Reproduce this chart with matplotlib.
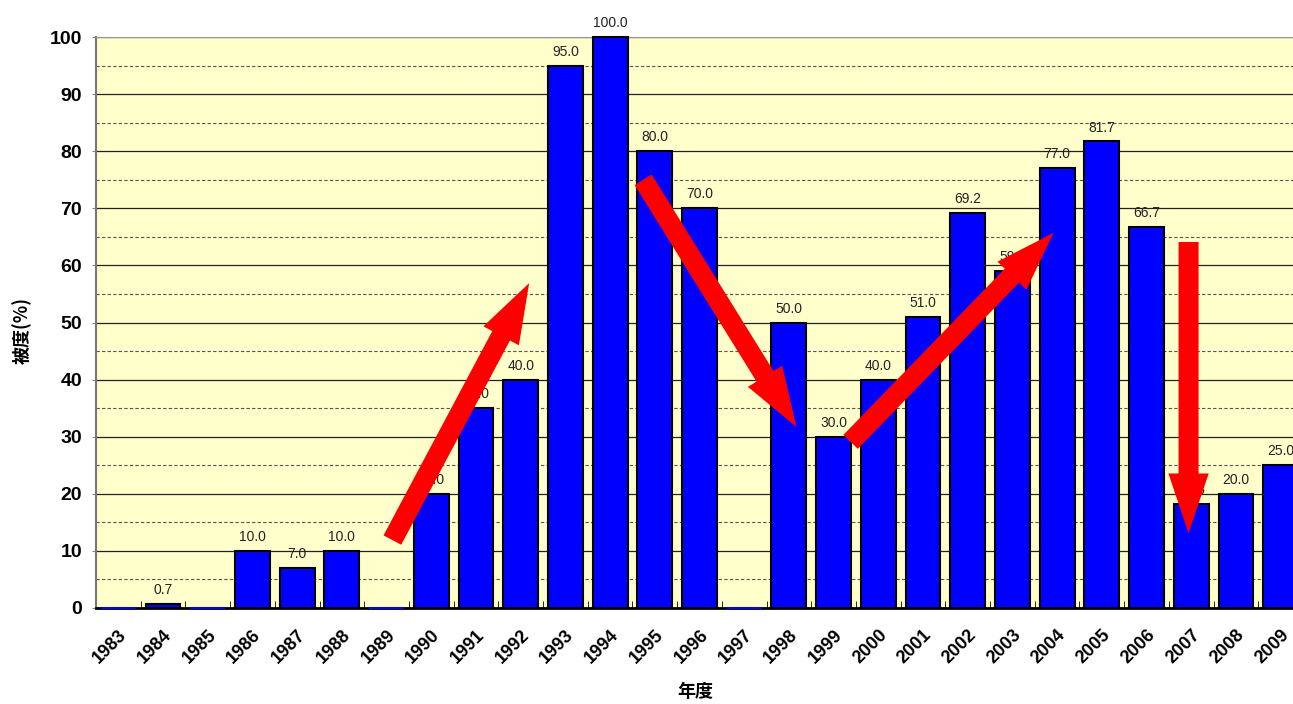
import matplotlib
matplotlib.use("Agg")
import matplotlib.pyplot as plt
import numpy as np

plt.rcParams["font.family"] = ["Liberation Sans", "Noto Sans CJK JP", "DejaVu Sans"]

years = [str(y) for y in range(1983, 2010)]
cover = [0, 0.7, 0, 10.0, 7.0, 10.0, 0, 20.0, 35.0, 40.0, 95.0, 100.0, 80.0,
         70.0, 0, 50.0, 30.0, 40.0, 51.0, 69.2, 59.0, 77.0, 81.7, 66.7, 18.3,
         20.0, 25.0]

# trend arrows: (tail_x, tail_y, tip_x, tip_y) in data units
arrows = [
    (6.13, 11.9, 9.19, 56.9),
    (11.74, 75.0, 15.17, 31.7),
    (16.38, 29.1, 20.92, 65.7),
    (23.94, 64.1, 23.94, 13.1),
]

W, H = 1293, 704
fig = plt.figure(figsize=(W / 100, H / 100), dpi=100)
# axes runs past the right edge of the figure, as in the original
ax = fig.add_axes([96 / W, 96 / H, 1207 / W, 571 / H])
ax.set_facecolor("#FFFFCC")

x = np.arange(len(years))
edge = ["blue" if v == 0 else "black" for v in cover]
ax.bar(x, cover, width=0.78, color="#0000FF", edgecolor=edge,
       linewidth=1.5, zorder=3, clip_on=False)

for xi, v in zip(x, cover):
    if v == 0:
        continue
    ax.annotate(f"{v:.1f}", (xi, v), xytext=(0, 5), textcoords="offset points",
                ha="center", va="bottom", fontsize=10, color="#222222",
                zorder=4, annotation_clip=False)

ax.set_xlim(-0.5, len(years) - 0.5)
ax.set_ylim(0, 100)
ax.set_yticks(np.arange(0, 101, 10))
ax.set_yticks(np.arange(5, 100, 10), minor=True)
ax.grid(True, which="major", axis="y", color="#222222", lw=0.9, zorder=1)
ax.grid(True, which="minor", axis="y", color="#555555", lw=0.8, ls=(0, (3, 2)),
        zorder=1)

ax.set_xticks(x)
ax.set_xticks(np.arange(-0.5, len(years), 1.0), minor=True)
ax.set_xticklabels(years, rotation=45, ha="right", rotation_mode="anchor",
                   fontsize=13, fontweight="bold")
ax.tick_params(axis="x", which="major", length=0, pad=13)
ax.tick_params(axis="x", which="minor", direction="in", length=5, color="black")
ax.tick_params(axis="y", which="major", labelsize=14, length=3, color="#888888",
               pad=7)
ax.tick_params(axis="y", which="minor", length=0)
for lab in ax.get_yticklabels():
    lab.set_fontweight("bold")

ax.spines["left"].set_color("#777777")
ax.spines["left"].set_linewidth(1.5)
ax.spines["top"].set_color("#999999")
ax.spines["bottom"].set_color("black")
ax.spines["bottom"].set_linewidth(2)
ax.spines["right"].set_visible(False)

ax.set_xlabel("年度", fontsize=13, fontweight="bold",
              family=["Noto Sans CJK JP"])
ax.set_ylabel("被度(%)", fontsize=13, fontweight="bold",
              family=["Noto Sans CJK JP"])
ax.xaxis.set_label_coords((695 - 96) / 1207, -(682 - 608) / 571)
ax.yaxis.set_label_coords((32 - 96) / 1207, (608 - 330) / 571)

for tx, ty, hx, hy in arrows:
    ax.annotate("", xy=(hx, hy), xytext=(tx, ty),
                arrowprops=dict(facecolor="#FF0000", edgecolor="none",
                                width=14.4, headwidth=29, headlength=43,
                                shrink=0),
                zorder=6)

fig.savefig("out.png", dpi=100)
